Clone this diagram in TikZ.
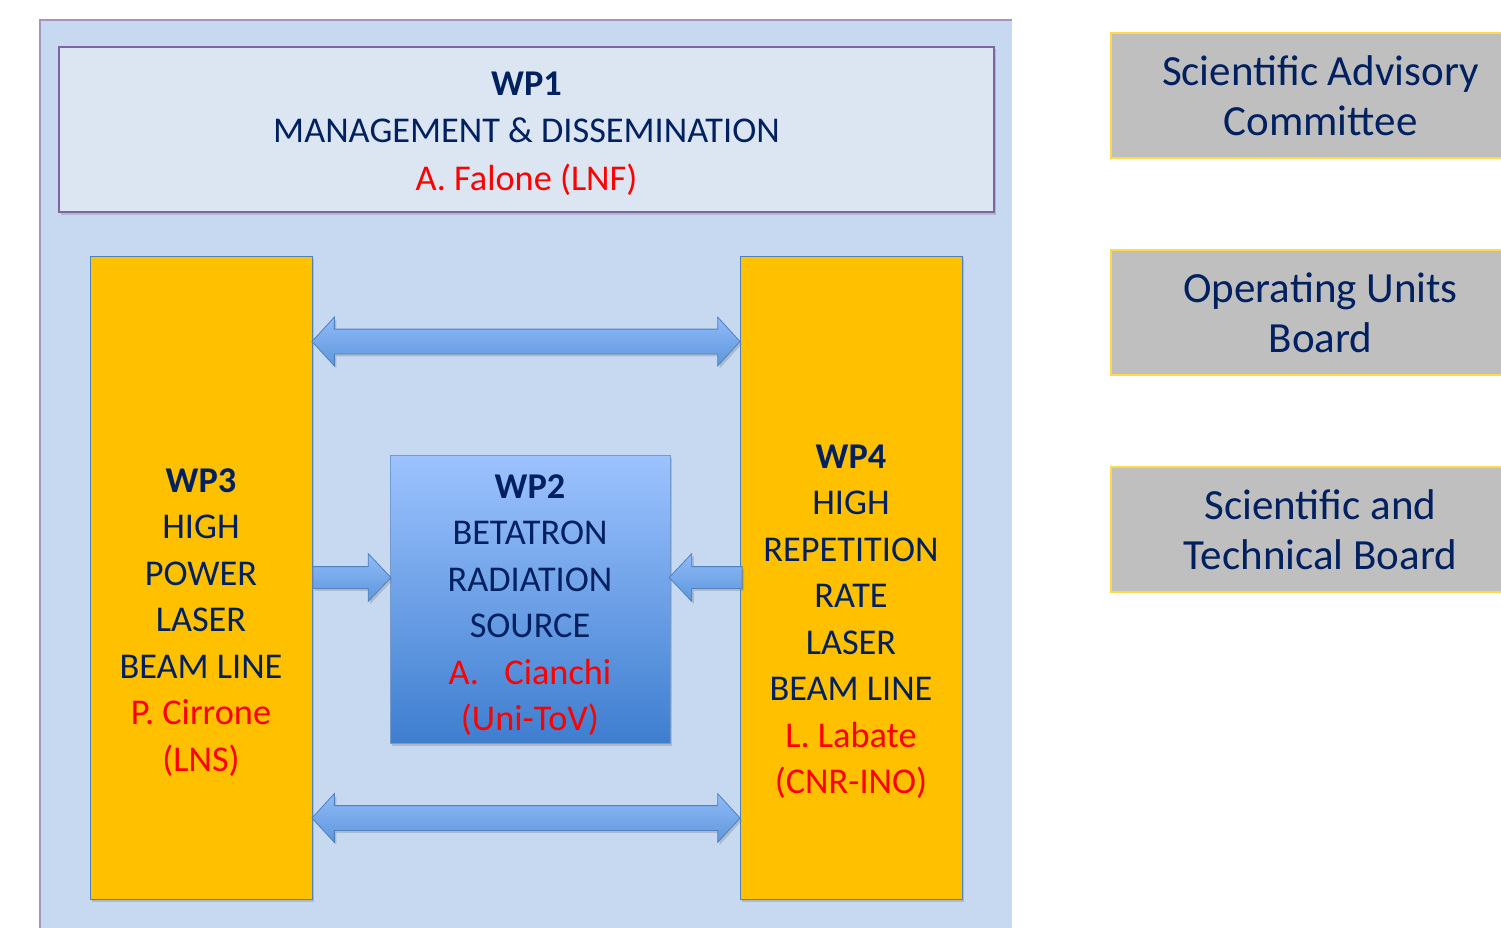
\documentclass[tikz,border=0pt]{standalone}
\usepackage{fontspec}
\setmainfont{Carlito}
\usetikzlibrary{shapes.arrows,shadows,calc}

\definecolor{navy}{HTML}{002060}
\definecolor{panelblue}{HTML}{C6D9F0}
\definecolor{mgmtfill}{HTML}{DCE6F2}
\definecolor{mgmtedge}{HTML}{8064A2}
\definecolor{wporange}{HTML}{FFC000}
\definecolor{wpedge}{HTML}{4F81BD}
\definecolor{srctop}{HTML}{9DC3FF}
\definecolor{srcbot}{HTML}{3E7ECF}
\definecolor{flowtop}{HTML}{90BBF8}
\definecolor{flowbot}{HTML}{5E96DC}
\definecolor{boardgray}{HTML}{BFBFBF}
\definecolor{boardedge}{HTML}{FFD94A}

\tikzset{
  softshadow/.style={drop shadow={opacity=.35,shadow xshift=2pt,shadow yshift=-2.5pt}},
  mgmtbox/.style={draw=mgmtedge,line width=1.5pt,fill=mgmtfill,minimum width=935pt,minimum height=165pt,inner sep=0pt,softshadow},
  wpbox/.style={draw=wpedge,line width=1pt,fill=wporange,minimum width=222pt,minimum height=643pt,inner sep=0pt,softshadow},
  srcbox/.style={draw=wpedge!80,line width=1pt,top color=srctop,bottom color=srcbot,minimum width=280pt,minimum height=288pt,
    inner sep=0pt,softshadow},
  wptext/.style={align=center,text=navy,inner sep=0pt,font=\fontsize{36.3}{46.5}\selectfont},
  dblarrow/.style={double arrow,draw=wpedge,line width=.8pt,top color=flowtop,bottom color=flowbot,inner xsep=0pt,
    inner ysep=12pt,double arrow head extend=12pt,double arrow tip angle=95,softshadow},
  feedarrow/.style={single arrow,draw=wpedge,line width=.8pt,top color=flowtop,bottom color=flowbot,inner xsep=0pt,
    inner ysep=10.5pt,single arrow head extend=13pt,single arrow tip angle=93,anchor=tail,softshadow},
  boardbox/.style={draw=boardedge,line width=1.5pt,fill=boardgray,minimum width=419pt,minimum height=125pt,
    inner sep=0pt,align=center,text=navy,font=\fontsize{43}{50}\selectfont}
}

\begin{document}
\begin{tikzpicture}[x=1pt,y=-1pt]
  \useasboundingbox (0,0) rectangle (1501,928);
  \clip (0,0) rectangle (1501,928);
  % background panel
  \fill[panelblue] (40,20) rectangle (1012,940);
  \draw[mgmtedge!70,line width=1.2pt] (40,940) -- (40,20) -- (1012,20);

  % work packages
  \node[mgmtbox] (wp1) at (526.5,129.5) {};
  \node[wpbox] (wp3) at (201,577.5) {};
  \node[wpbox] (wp4) at (851,577.5) {};
  \node[srcbox] (wp2) at (530,599) {};
  \node[wptext,font=\fontsize{36.3}{47.5}\selectfont] (wp1txt) at ($(wp1)+(0,4)$) {\textbf{WP1}\\MANAGEMENT \& DISSEMINATION\\\textcolor{red}{A. Falone (LNF)}};
  \node[wptext] (wp2txt) at ($(wp2)+(0,6)$) {\textbf{WP2}\\BETATRON\\RADIATION\\SOURCE\\\textcolor{red}{A.\hspace{0.7em}Cianchi}\\\textcolor{red}{(Uni-ToV)}};
  \node[wptext] (wp3txt) at ($(wp3)+(0,45)$) {\textbf{WP3}\\HIGH\\POWER\\LASER\\BEAM LINE\\\textcolor{red}{P. Cirrone}\\\textcolor{red}{(LNS)}};
  \node[wptext] (wp4txt) at ($(wp4)+(0,44)$) {\textbf{WP4}\\HIGH\\REPETITION\\RATE\\LASER\\BEAM LINE\\\textcolor{red}{L. Labate}\\\textcolor{red}{(CNR-INO)}};

  % block arrows between the packages
  \node[dblarrow,minimum height=428pt] (topflow) at ($(wp3.north east)!.5!(wp4.north west)+(0,86)$) {};
  \node[dblarrow,minimum height=428pt] (botflow) at ($(wp3.south east)!.5!(wp4.south west)+(0,-81.5)$) {};
  \node[feedarrow,minimum height=78pt] (feed3) at (wp3.east) {};
  \node[feedarrow,minimum height=73pt,shape border rotate=180] (feed4) at ($(wp4.west)+(3,0)$) {};

  % boards
  \node[boardbox] (sac) at (1320.5,95.5) {Scientific Advisory\\Committee};
  \node[boardbox] (oub) at (1320.5,312.5) {Operating Units\\Board};
  \node[boardbox] (stb) at (1320.5,529.5) {Scientific and\\Technical Board};
\end{tikzpicture}
\end{document}
